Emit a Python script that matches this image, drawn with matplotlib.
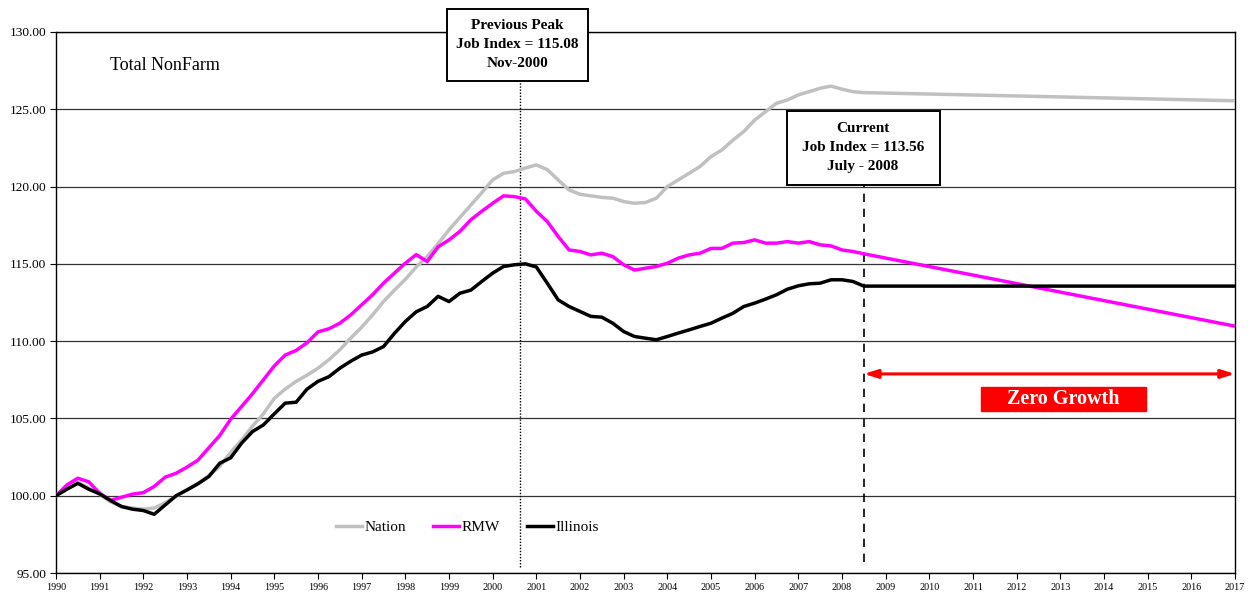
import matplotlib
matplotlib.use("Agg")
import matplotlib.pyplot as plt
from matplotlib.patches import Rectangle
import numpy as np

plt.rcParams['font.family'] = ['Liberation Serif', 'DejaVu Serif']

# quarterly points, Jan 1990 .. Jul 2008 (decimal years)
years = [1990 + q / 4 for q in range(75)]

nation = [100.0, 100.6, 100.85, 100.5,
          100.1, 99.6, 99.3, 99.2,
          99.13, 99.2, 99.55, 99.95,
          100.4, 100.8, 101.3, 101.9,
          102.8, 103.6, 104.5, 105.3,
          106.3, 106.9, 107.4, 107.8,
          108.25, 108.8, 109.44, 110.2,
          110.9, 111.7, 112.56, 113.3,
          114.0, 114.8, 115.47, 116.3,
          117.2, 118.0, 118.8, 119.6,
          120.43, 120.86, 120.97, 121.2,
          121.4, 121.1, 120.43, 119.78,
          119.5, 119.4, 119.3, 119.25,
          119.03, 118.92, 118.97, 119.25,
          120.0, 120.43, 120.86, 121.3,
          121.94, 122.37, 123.0, 123.56,
          124.3, 124.85, 125.39, 125.6,
          125.93, 126.14, 126.36, 126.5,
          126.3, 126.14, 126.08]

rmw = [100.0, 100.7, 101.13, 100.9,
       100.16, 99.7, 99.9, 100.1,
       100.2, 100.6, 101.2, 101.45,
       101.85, 102.3, 103.1, 103.9,
       104.95, 105.77, 106.6, 107.5,
       108.4, 109.1, 109.4, 109.9,
       110.6, 110.8, 111.16, 111.7,
       112.35, 113.0, 113.75, 114.4,
       115.04, 115.6, 115.15, 116.1,
       116.55, 117.1, 117.85, 118.4,
       118.92, 119.4, 119.35, 119.2,
       118.4, 117.74, 116.77, 115.9,
       115.8, 115.58, 115.69, 115.47,
       114.94, 114.6, 114.72, 114.83,
       115.04, 115.37, 115.58, 115.69,
       116.0, 116.0, 116.34, 116.38,
       116.55, 116.34, 116.34, 116.44,
       116.34, 116.44, 116.23, 116.16,
       115.9, 115.8, 115.65]

illinois = [100.0, 100.42, 100.8, 100.42,
            100.12, 99.69, 99.3, 99.13,
            99.04, 98.8, 99.4, 100.0,
            100.37, 100.77, 101.24, 102.1,
            102.45, 103.4, 104.15, 104.58,
            105.3, 105.99, 106.05, 106.9,
            107.4, 107.7, 108.25, 108.7,
            109.1, 109.3, 109.65, 110.5,
            111.27, 111.9, 112.24, 112.9,
            112.56, 113.1, 113.3, 113.86,
            114.4, 114.83, 114.94, 115.0,
            114.8, 113.75, 112.67, 112.24,
            111.92, 111.6, 111.55, 111.16,
            110.62, 110.3, 110.19, 110.09,
            110.3, 110.52, 110.73, 110.95,
            111.16, 111.49, 111.8, 112.24,
            112.46, 112.72, 113.0, 113.36,
            113.58, 113.71, 113.75, 113.97,
            113.97, 113.86, 113.56]

# straight-line projections out to 2017
proj_end = 2017.0
nation_end = 125.55
rmw_end = 110.97
illinois_end = 113.56

peak_x = 2000.625
current_x = 2008.5

fig = plt.figure(figsize=(12.51, 5.97), dpi=100)
ax = fig.add_axes([56 / 1251, 24 / 597, 1179 / 1251, 541 / 597])

ax.plot(years + [proj_end], nation + [nation_end], color='#C0C0C0', lw=2.5, label='Nation', zorder=3)
ax.plot(years + [proj_end], rmw + [rmw_end], color='#FF00FF', lw=2.5, label='RMW', zorder=4)
ax.plot(years + [proj_end], illinois + [illinois_end], color='black', lw=2.5, label='Illinois', zorder=5)

ax.set_xlim(1990, 2017)
ax.set_ylim(95, 130)
ax.set_yticks(np.arange(95, 131, 5))
ax.set_yticklabels(['%.2f' % v for v in np.arange(95, 131, 5)], fontsize=9.6)
ax.set_xticks(range(1990, 2018))
ax.set_xticklabels([str(y) for y in range(1990, 2018)], fontsize=7.3)
ax.tick_params(axis='both', direction='out', length=4, width=0.8, pad=3)
ax.yaxis.grid(True, color='#333333', lw=0.9)
ax.set_axisbelow(True)
for s in ax.spines.values():
    s.set_linewidth(1.0)

ax.text(1991.23, 127.85, 'Total NonFarm', fontsize=13, va='center', ha='left')

# vertical markers
ax.plot([peak_x, peak_x], [95.4, 126.8], color='black', lw=1, ls=(0, (1, 1.2)), zorder=2)
ax.plot([current_x, current_x], [95.7, 120.1], color='black', lw=1.2, ls=(0, (5, 4)), zorder=2)

# annotation boxes
ax.add_patch(Rectangle((1998.95, 126.83), 3.23, 4.66, fc='white', ec='black', lw=1.4,
                       clip_on=False, zorder=9))
ax.text(2000.56, 129.16, 'Previous Peak\nJob Index = 115.08\nNov-2000', fontsize=11,
        fontweight='bold', ha='center', va='center', linespacing=1.6, zorder=10)
ax.add_patch(Rectangle((2006.74, 120.10), 3.5, 4.79, fc='white', ec='black', lw=1.4, zorder=9))
ax.text(2008.48, 122.5, 'Current\nJob Index = 113.56\nJuly - 2008', fontsize=11,
        fontweight='bold', ha='center', va='center', linespacing=1.6, zorder=10)

ax.annotate('', xy=(proj_end, 107.88), xytext=(current_x, 107.88),
            arrowprops=dict(arrowstyle='<|-|>,head_length=0.8,head_width=0.25', color='red', lw=2.2,
                            shrinkA=0, shrinkB=0), zorder=6)
ax.add_patch(Rectangle((2011.18, 105.49), 3.78, 1.55, fc='red', ec='red', zorder=6))
ax.text(2013.07, 106.26, 'Zero Growth', fontsize=14.5, fontweight='bold', color='white',
        ha='center', va='center', zorder=7)

ax.legend(loc='center', bbox_to_anchor=(0.349, 0.085), ncol=3, frameon=False, fontsize=11,
          handlelength=1.7, handletextpad=0.15, columnspacing=1.8)

fig.savefig('out.png', dpi=100)
